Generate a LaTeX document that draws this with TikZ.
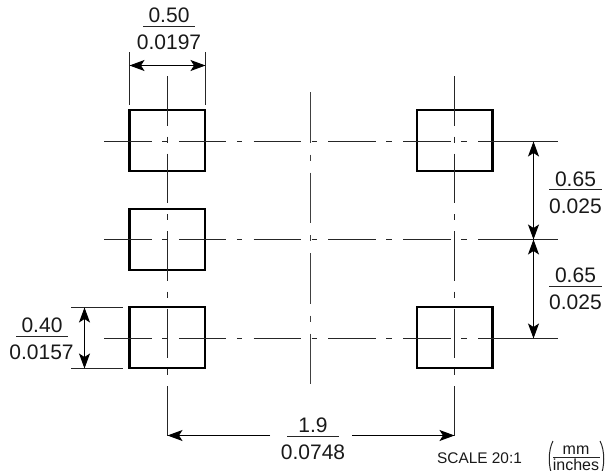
\documentclass[tikz,border=0pt]{standalone}
\usepackage{fontspec}
\setmainfont{Liberation Sans}
\usetikzlibrary{arrows.meta}
\tikzset{
  pad/.style={draw=black,line width=2.1pt,rectangle,inner sep=0pt,outer sep=0pt,minimum width=75.5pt,minimum height=61pt},
  hcentre/.style={line width=1pt,draw=black!85,dash pattern=on 47.5pt off 10.5pt on 5.5pt off 11.3pt},
  vcentre/.style={line width=1pt,draw=black!85,dash pattern=on 49.5pt off 11pt on 6pt off 11pt},
  mcentre/.style={line width=1pt,draw=black!75,dash pattern=on 50.5pt off 12pt on 6pt off 12pt},
  extline/.style={line width=1pt,draw=black!85},
  dimline/.style={line width=1pt,draw=black,{Stealth[length=15pt,width=11pt,inset=3.5pt]}-{Stealth[length=15pt,width=11pt,inset=3.5pt]}},
  dimhalf/.style={line width=1pt,draw=black,-{Stealth[length=15pt,width=11pt,inset=3.5pt]}},
  bar/.style={line width=1pt,draw=black!85},
  dimtext/.style={anchor=base,inner sep=0pt,font=\fontsize{21}{23}\selectfont,text=black!90},
  scaletext/.style={anchor=base,inner sep=0pt,font=\fontsize{15.4}{17}\selectfont,text=black!90},
  unittext/.style={anchor=base,inner sep=0pt,font=\fontsize{16}{18}\selectfont,text=black!90},
}
\begin{document}
\begin{tikzpicture}[x=1pt,y=-1pt]
\useasboundingbox (0,0) rectangle (605,471);
% pads
\node[pad] (p1) at (167.25,140.8) {};
\node[pad] (p2) at (167.25,239.8) {};
\node[pad] (p3) at (167.25,337.4) {};
\node[pad] (p4) at (454.75,140.8) {};
\node[pad] (p5) at (454.75,337.4) {};
% centre lines, horizontal
\foreach \n/\y in {a/141.5,b/239.5,c/338.5}{
  \coordinate (h\n l) at (104,\y);
  \coordinate (h\n r) at (527,\y);
  \coordinate (e\n l) at (506,\y);
  \coordinate (e\n r) at (558,\y);
  \draw[hcentre] (h\n l) -- (h\n r);
  \draw[extline] (e\n l) -- (e\n r);
}
% centre lines, vertical
\coordinate (vlt) at (167.5,76);
\coordinate (vrt) at (454.5,76);
\coordinate (vlb) at (167.5,435.5);
\coordinate (vrb) at (454.5,435.5);
\coordinate (vmt) at (310.5,92);
\coordinate (vmb) at (310.5,385);
\draw[vcentre] (vlt) -- (vlb);
\draw[vcentre] (vrt) -- (vrb);
\draw[mcentre] (vmt) -- (vmb);
% width dimension
\coordinate (wla) at (129.5,52);
\coordinate (wlb) at (129.5,105);
\coordinate (wra) at (205.5,52);
\coordinate (wrb) at (205.5,105);
\coordinate (wl) at (129.5,65.5);
\coordinate (wr) at (205.5,65.5);
\draw[extline] (wla) -- (wlb);
\draw[extline] (wra) -- (wrb);
\draw[dimline] (wl) -- (wr);
\node[dimtext] (t050) at (169,22.7) {0.50};
\node[dimtext] (t0197) at (169,49.5) {0.0197};
\coordinate (b1a) at (143,26.5);
\coordinate (b1b) at (195,26.5);
\draw[bar] (b1a) -- (b1b);
% height dimension
\coordinate (hta) at (71,307.5);
\coordinate (htb) at (123,307.5);
\coordinate (hba) at (71,368.5);
\coordinate (hbb) at (123,368.5);
\coordinate (ht) at (84.5,307.5);
\coordinate (hb) at (84.5,368.5);
\draw[extline] (hta) -- (htb);
\draw[extline] (hba) -- (hbb);
\draw[dimline] (ht) -- (hb);
\node[dimtext] (t040) at (42,332.7) {0.40};
\node[dimtext] (t0157) at (41.5,359) {0.0157};
\coordinate (b2a) at (16,336.5);
\coordinate (b2b) at (68,336.5);
\draw[bar] (b2a) -- (b2b);
% pitch dimensions
\coordinate (pa) at (533.5,141.5);
\coordinate (pb) at (533.5,239.5);
\coordinate (pc) at (533.5,338.5);
\draw[dimline] (pa) -- (pb);
\draw[dimline] (pb) -- (pc);
\node[dimtext] (t065a) at (575.5,186) {0.65};
\node[dimtext] (t025a) at (575.5,213) {0.025};
\coordinate (b3a) at (549,189.5);
\coordinate (b3b) at (602,189.5);
\draw[bar] (b3a) -- (b3b);
\node[dimtext] (t065b) at (575.5,282.5) {0.65};
\node[dimtext] (t025b) at (575.5,309) {0.025};
\coordinate (b4a) at (549,286.5);
\coordinate (b4b) at (602,286.5);
\draw[bar] (b4a) -- (b4b);
% span dimension
\coordinate (sl) at (270,435.5);
\coordinate (sr) at (352,435.5);
\draw[dimhalf] (sl) -- (vlb);
\draw[dimhalf] (sr) -- (vrb);
\node[dimtext] (t19) at (313,432.7) {1.9};
\node[dimtext] (t0748) at (313,459) {0.0748};
\coordinate (b5a) at (287,436.5);
\coordinate (b5b) at (339,436.5);
\draw[bar] (b5a) -- (b5b);
% scale note
\node[scaletext] (scale) at (479.5,463) {SCALE 20:1};
\node[unittext] (mm) at (576,454) {mm};
\node[unittext] (inch) at (576,470.5) {inches};
\coordinate (b6a) at (553,457);
\coordinate (b6b) at (600,457);
\draw[bar] (b6a) -- (b6b);
\coordinate (pl1) at (553,441);
\coordinate (pl2) at (553,477);
\coordinate (pr1) at (600,441);
\coordinate (pr2) at (600,477);
\draw[line width=1pt,draw=black!85] (pl1) .. controls (548,450) and (548,468) .. (pl2);
\draw[line width=1pt,draw=black!85] (pr1) .. controls (605,450) and (605,468) .. (pr2);
\end{tikzpicture}
\end{document}
